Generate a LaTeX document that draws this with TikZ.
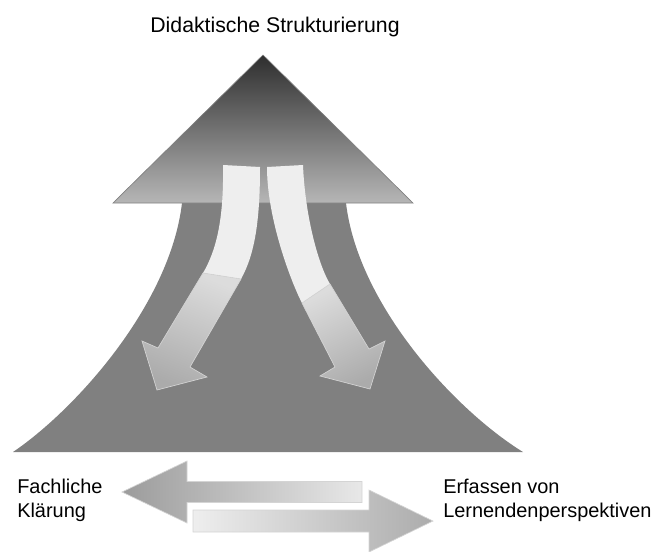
\documentclass[tikz,border=0pt]{standalone}
\usepackage{fontspec}
\setmainfont{Liberation Sans}

\definecolor{Trunk}{HTML}{808080}
\definecolor{Apex}{HTML}{2E2E2E}
\definecolor{Base}{HTML}{B6B6B6}
\definecolor{Pale}{HTML}{EEEEEE}
\definecolor{Mid}{HTML}{DCDCDC}
\definecolor{Tip}{HTML}{ABABAB}
\definecolor{Rim}{HTML}{D4D4D4}

\begin{document}
\begin{tikzpicture}[x={(0.02646cm,0cm)}, y={(0cm,-0.02646cm)},
  txt/.style={font=\fontsize{15}{18}\selectfont, inner sep=0, align=left}]

  \useasboundingbox (0,0) rectangle (655,551);

 %%%%%%%%%% Points pour travailler %%%%%%%%%%
 \coordinate (0) at (263,55);
 \coordinate (1) at (113,203);
 \coordinate (2) at (413,203);
 \coordinate (3) at (182,203);
 \coordinate (4) at (346,203);
 \coordinate (5) at (523,452);
 \coordinate (6) at (13,452);

 % Trunk
 \fill [Trunk] (3) .. controls (170,305) and (75,410) .. (6) -- (5)
   .. controls (455,410) and (358,305) .. (4) -- cycle ;

 % Triangle
 \shade [top color=Apex, bottom color=Base, draw=gray, line width=0.5] (0) -- (2) -- (1) -- cycle ;

 %%%%%%%%%%%%%% CURVED ARROWS %%%%%%%%%%%%%%
 \coordinate (10) at (223,165);
 \coordinate (11) at (203,273);
 \coordinate (12) at (158,348);
 \coordinate (13) at (142,341);
 \coordinate (14) at (157,390);
 \coordinate (15) at (207,377);
 \coordinate (16) at (190,367);
 \coordinate (17) at (241,279);
 \coordinate (18) at (260,167);

 \coordinate (20) at (267,167);
 \coordinate (21) at (302,303);
 \coordinate (22) at (335,367);
 \coordinate (23) at (320,376);
 \coordinate (24) at (370,389);
 \coordinate (25) at (385,341);
 \coordinate (26) at (369,349);
 \coordinate (27) at (330,284);
 \coordinate (28) at (303,165);

 % Left one
 \fill [Pale] (10) .. controls (224,220) and (216,251) .. (11) -- (17)
   .. controls (255,254) and (260,220) .. (18) -- cycle ;
 \shade [top color=Mid, bottom color=Tip, shading angle=-22, draw=Rim, line width=0.5]
   (11) -- (12) -- (13) -- (14) -- (15) -- (16) -- (17) -- cycle ;

 % Right one
 \fill [Pale] (20) .. controls (267,220) and (292,284) .. (21) -- (27)
   .. controls (318,264) and (305,215) .. (28) -- cycle ;
 \shade [top color=Mid, bottom color=Tip, shading angle=27, draw=Rim, line width=0.5]
   (21) -- (22) -- (23) -- (24) -- (25) -- (26) -- (27) -- cycle ;

 %%%%%%%%%%%%%% BOTTOM ARROWS %%%%%%%%%%%%%%
 \coordinate (30) at (122,492);
 \coordinate (31) at (187,461);
 \coordinate (32) at (187,481.5);
 \coordinate (33) at (362,481.5);
 \coordinate (34) at (362,502.5);
 \coordinate (35) at (187,502.5);
 \coordinate (36) at (187,523);

 \coordinate (40) at (433,521);
 \coordinate (41) at (369,490);
 \coordinate (42) at (369,510);
 \coordinate (43) at (193,510);
 \coordinate (44) at (193,532);
 \coordinate (45) at (369,532);
 \coordinate (46) at (369,552);

 \shade [left color=gray!78, right color=gray!18, draw=Rim, line width=0.5]
   (30) -- (31) -- (32) -- (33) -- (34) -- (35) -- (36) -- cycle ;
 \shade [left color=Pale, right color=gray!65, draw=Rim, line width=0.5]
   (40) -- (41) -- (42) -- (43) -- (44) -- (45) -- (46) -- cycle ;

 %%%%%%%%%%%%%% TEXTS %%%%%%%%%%%%%%
 \node [anchor=base, inner sep=0, font=\fontsize{16}{19}\selectfont] (didaktik) at (275,32) {Didaktische Strukturierung};
 \node [txt, anchor=base west] (fachlich) at (17,517) {Fachliche\\Klärung};
 \node [txt, anchor=base west] (lernende) at (443,517) {Erfassen von\\Lernendenperspektiven};

\end{tikzpicture}
\end{document}
